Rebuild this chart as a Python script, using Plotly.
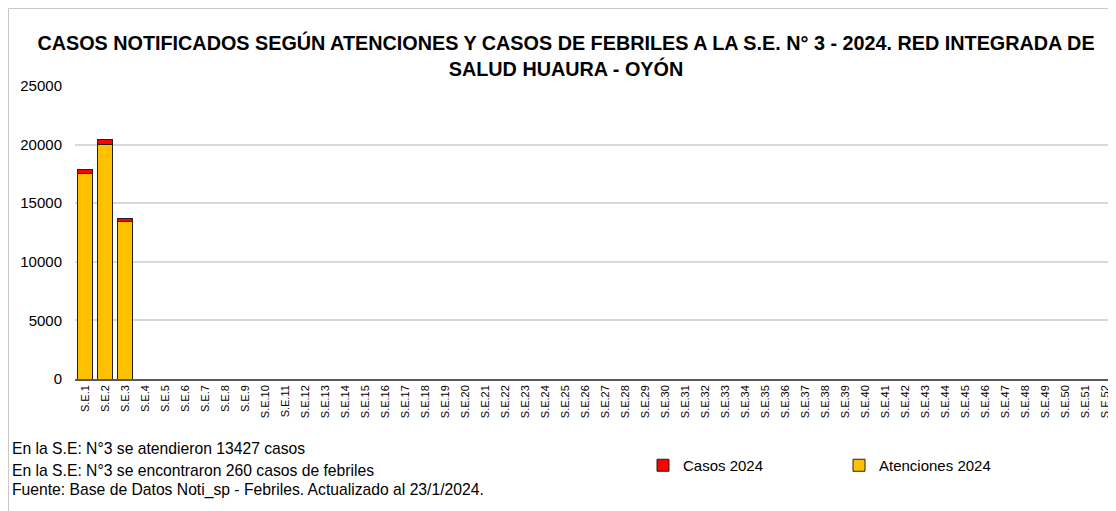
import plotly.graph_objects as go

semanas = [f"S.E.{i}" for i in range(1, 53)]
atenciones = [17560, 20050, 13427]
casos = [340, 400, 260]

FONT = "Liberation Sans, Arial, sans-serif"

O = 8  # page body margin: screen coords = figure coords + 8
W, H = 1116 - O, 511 - O
l, r, t, b = 75 - O, 0, 86 - O, H - (379 - O)
pw, ph = W - l - r, H - t - b
def px(x):  # screen x -> paper
    return (x - O - l) / pw
def py(y):  # screen y -> paper
    return (H - b - (y - O)) / ph

fig = go.Figure()
fig.add_trace(go.Bar(x=semanas[:len(atenciones)], y=atenciones, name="Atenciones 2024",
                     marker=dict(color="#FFC000", line=dict(color="#222222", width=1))))
fig.add_trace(go.Bar(x=semanas[:len(casos)], y=casos, name="Casos 2024",
                     marker=dict(color="#FF0000", line=dict(color="#222222", width=1))))

notes = [
    ("En la S.E: N°3 se atendieron 13427 casos", 448),
    ("En la S.E: N°3 se encontraron 260 casos de febriles", 470),
    ("Fuente: Base de Datos Noti_sp - Febriles. Actualizado al 23/1/2024.", 490),
]

fig.update_layout(
    width=W, height=H,
    barmode="stack", bargap=0.25,
    paper_bgcolor="white", plot_bgcolor="white",
    font=dict(family=FONT, size=15, color="black"),
    margin=dict(l=l, r=r, t=t, b=b, autoexpand=False),
    title=dict(text="<b>CASOS NOTIFICADOS SEGÚN ATENCIONES Y CASOS DE FEBRILES A LA S.E. N° 3 - 2024. RED INTEGRADA DE<br>SALUD HUAURA - OYÓN</b>",
               x=(566 - O) / W, xanchor="center", y=1 - 42 / H, yanchor="top",
               font=dict(family=FONT, size=19.8, color="black")),
    showlegend=True,
    legend=dict(orientation="h", traceorder="reversed", xref="container", yref="container",
                x=(643 - O) / W, xanchor="left", y=1 - (449 - O) / H, yanchor="top",
                font=dict(family=FONT, size=15), entrywidth=151, entrywidthmode="pixels",
                itemwidth=30, bgcolor="rgba(0,0,0,0)"),
    xaxis=dict(categoryorder="array", categoryarray=semanas, range=[-0.5, 51.55],
               tickangle=-90, tickfont=dict(family=FONT, size=11),
               showline=True, linecolor="#595959", linewidth=1.5, ticks="", showgrid=False),
    yaxis=dict(range=[0, 25000], dtick=5000, tickformat="d", showgrid=True, gridcolor="#d9d9d9", gridwidth=1.5,
               tickfont=dict(family=FONT, size=15), zeroline=False, showline=False, ticks="outside",
               ticklen=9, tickcolor="white"),
    annotations=[dict(text=s, x=px(10), y=py(yy), xref="paper", yref="paper", showarrow=False,
                      xanchor="left", yanchor="middle", font=dict(family=FONT, size=15.7))
                 for s, yy in notes],
    shapes=[
        dict(type="line", xref="paper", yref="paper", x0=px(8.5), x1=px(8.5), y0=py(8.5), y1=py(511),
             line=dict(color="#c8c8c8", width=1)),
        dict(type="line", xref="paper", yref="paper", x0=px(8.5), x1=px(1116), y0=py(8.5), y1=py(8.5),
             line=dict(color="#c8c8c8", width=1)),
    ],
)

fig.write_html("out.html")
